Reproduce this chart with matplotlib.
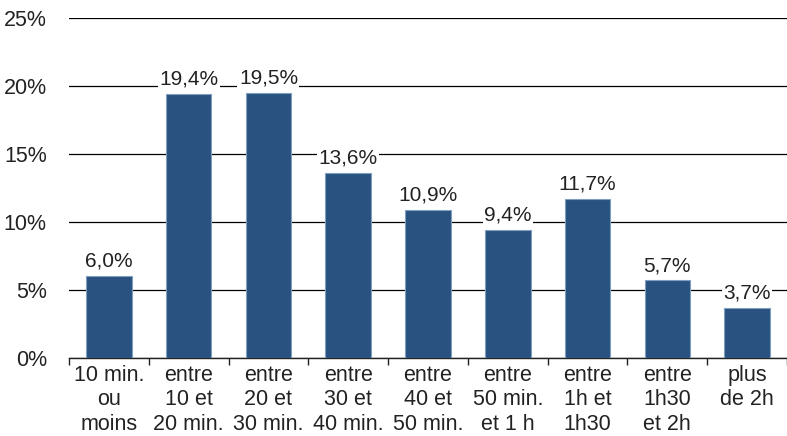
import matplotlib
matplotlib.use("Agg")
import matplotlib.pyplot as plt
from matplotlib.ticker import FuncFormatter

plt.rcParams['font.family'] = ['Liberation Sans', 'DejaVu Sans']

categories = ["10 min.\nou\nmoins", "entre\n10 et\n20 min.", "entre\n20 et\n30 min.",
              "entre\n30 et\n40 min.", "entre\n40 et\n50 min.", "entre\n50 min.\net 1 h",
              "entre\n1h et\n1h30", "entre\n1h30\net 2h", "plus\nde 2h"]
values = [6.0, 19.4, 19.5, 13.6, 10.9, 9.4, 11.7, 5.7, 3.7]
yticks = [0, 5, 10, 15, 20, 25]

bar_color = "#2a5280"
edge_color = "#7f9fc0"
text_color = "#222222"

fig = plt.figure(figsize=(7.87, 4.36), dpi=100)
ax = fig.add_axes([69 / 787, 78 / 436, 718 / 787, 340 / 436])

x = list(range(len(values)))
ax.bar(x, values, width=0.57, color=bar_color, edgecolor=edge_color, linewidth=0.8, zorder=3)

ax.set_xlim(-0.5, len(values) - 0.5)
ax.set_ylim(0, 25)
ax.set_yticks(yticks)
ax.yaxis.set_major_formatter(FuncFormatter(lambda v, p: f"{int(v)}%"))
ax.yaxis.grid(True, color="black", linewidth=0.9, zorder=1)
ax.tick_params(axis="y", length=0, pad=16, labelsize=15.5, colors=text_color)

for s in ["left", "right", "top"]:
    ax.spines[s].set_visible(False)
ax.spines["bottom"].set_color(text_color)
ax.spines["bottom"].set_linewidth(1.0)

# category labels centred, tick marks at category boundaries
ax.set_xticks(x)
ax.set_xticklabels(categories, fontsize=15.5, color=text_color, linespacing=1.22)
ax.tick_params(axis="x", length=0, pad=5)
ax.set_xticks([i - 0.5 for i in range(len(values) + 1)], minor=True)
ax.tick_params(axis="x", which="minor", length=5, width=1.0, color=text_color)

for xi, v in zip(x, values):
    ax.text(xi, v + 0.4, f"{v:.1f}%".replace(".", ","), ha="center", va="bottom",
            fontsize=15, color=text_color, zorder=4,
            bbox=dict(facecolor="white", edgecolor="none", pad=1.0))

fig.savefig("out.png", dpi=100)
